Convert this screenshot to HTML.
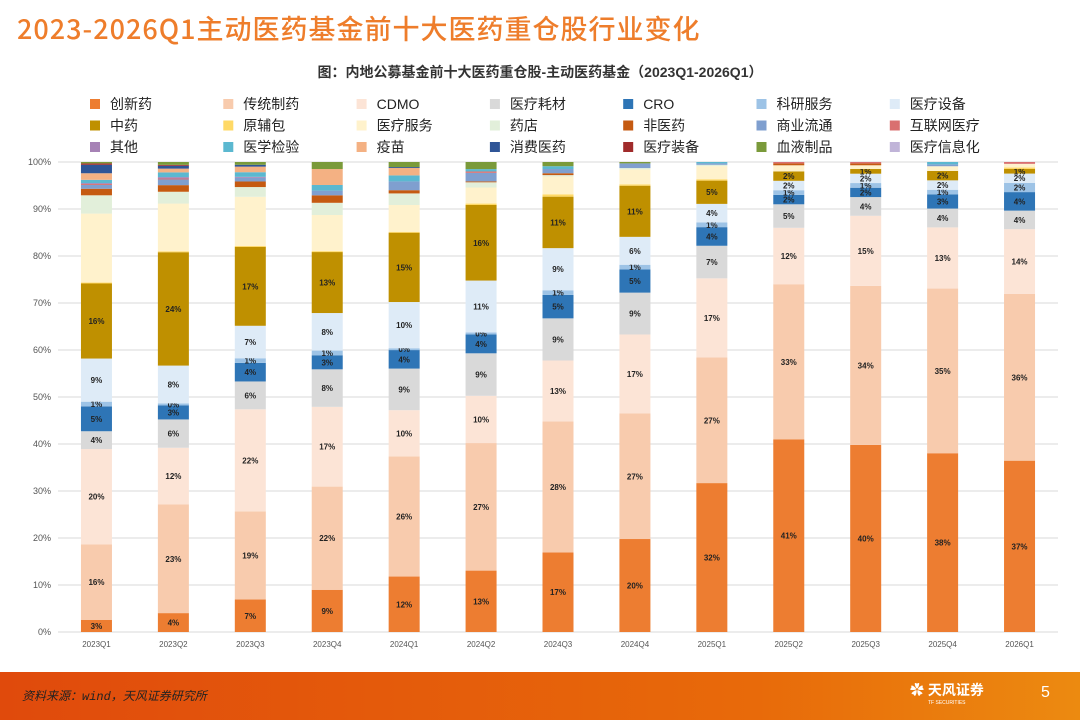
<!DOCTYPE html>
<html><head><meta charset="utf-8">
<style>
body{margin:0;width:1080px;height:720px;overflow:hidden;background:#fff;font-family:"Liberation Sans","Noto Sans CJK SC",sans-serif;position:relative}
#title{position:absolute;left:17px;top:8px;font-size:27px;color:#EE7D2B;font-family:"Noto Sans CJK SC",sans-serif;font-weight:500;letter-spacing:1px;white-space:nowrap}
#footer{position:absolute;left:0;top:672px;width:1080px;height:48px;background:linear-gradient(90deg,#E04A0C,#E86A0A 70%,#EC8A10)}
#src{position:absolute;left:22px;top:15px;color:#222;font-size:12px;font-style:italic;font-family:"Liberation Mono","Noto Sans CJK SC",monospace}
#logo{position:absolute;left:910px;top:8px;color:#fff;font-size:14px;font-weight:bold}
#page{position:absolute;left:1041px;top:12px;color:#fff;font-size:16px}
</style></head><body>
<div id="title">2023-2026Q1主动医药基金前十大医药重仓股行业变化</div>
<svg id="chart" width="1080" height="672" style="position:absolute;left:0;top:0"></svg>
<div id="footer">
<div id="src">资料来源：wind，天风证券研究所</div>
<div id="logo">✿ 天风证券<div style="font-size:5px;font-weight:normal;margin-left:18px">TF SECURITIES</div></div>
<div id="page">5</div>
</div>
<script>
const categories=["2023Q1","2023Q2","2023Q3","2023Q4","2024Q1","2024Q2","2024Q3","2024Q4","2025Q1","2025Q2","2025Q3","2025Q4","2026Q1"];
const seriesNames=["创新药","传统制药","CDMO","医疗耗材","CRO","科研服务","医疗设备","中药","原辅包","医疗服务","药店","非医药","商业流通","互联网医疗","其他","医学检验","疫苗","消费医药","医疗装备","血液制品","医疗信息化"];
const colors=["#ED7D31","#F8CBAD","#FCE4D6","#D9D9D9","#2E75B6","#9DC3E6","#DEEBF7","#BF9000","#FFD966","#FFF2CC","#E2EFDA","#C55A11","#7F9FCF","#D97070","#A682B5","#5BB8D0","#F4B183","#2F5597","#A02B2B","#7A9A3A","#C0B4D8"];
const s_cxy=[2.6,4,7,9,12,13,17,20,32,41,40,38,37];
const s_ctzy=[16.1,23,19,22,26,27,28,27,27,33,34,35,36];
const s_cdmo=[20.3,12,22,17,10,10,13,17,17,12,15,13,14];
const s_hc=[3.8,6,6,8,9,9,9,9,7,5,4,4,4];
const s_cro=[5.3,3,4,3,4,4,5,5,4,2,2,3,4];
const s_ky=[1,0.4,1,1,0.4,0.4,1,1,1,1,1,1,2];
const s_sb=[9.2,8,7,8,10,11,9,6,4,2,2,2,2];
const s_zy=[16,24,17,13,15,16,11,11,5,2,1,2,1];
const s_fzb=[0.2,0.2,0.2,0.2,0.2,0.3,0.5,0.3,0.3,0,0,0,0.3];
const s_ylfw=[14.7,10.1,10.6,7.7,5.8,3.4,3.8,3.2,2.8,1.3,0.8,1,0.8];
const s_yd=[3.9,2.5,2.1,2.6,2.5,1.1,0.3,0.3,0.3,0,0,0,0];
const s_fyy=[1.4,1.4,1.2,1.6,0.7,0.2,0.4,0,0,0.4,0.4,0,0];
const s_syl=[0.8,1.2,0.8,1,1.9,1.8,0.9,1,0.3,0,0,0.4,0];
const s_hlw=[0.2,0.2,0,0,0,0.3,0,0,0,0.3,0.3,0,0.4];
const s_qt=[0.2,0.3,0.2,0,0,0,0,0,0,0,0,0,0];
const s_yxjy=[0.7,1,1,1.2,1.3,0.5,0.6,0,0.3,0,0,0.5,0];
const s_ym=[1.4,0.8,1.2,3.4,1.6,0,0,0,0,0,0,0,0];
const s_xfyy=[1.8,0.6,0.4,0,0.2,0,0,0,0,0,0,0,0];
const s_ylzb=[0.3,0.2,0,0,0,0,0,0,0,0,0,0,0];
const s_xy=[0.3,0.6,0.6,1.5,1.1,1.5,0.9,0.3,0,0,0,0,0];
const s_xxh=[0,0,0,0,0,0,0,0,0,0,0,0,0];
const series=[s_cxy,s_ctzy,s_cdmo,s_hc,s_cro,s_ky,s_sb,s_zy,s_fzb,s_ylfw,s_yd,s_fyy,s_syl,s_hlw,s_qt,s_yxjy,s_ym,s_xfyy,s_ylzb,s_xy,s_xxh];
const yTicks=[0,10,20,30,40,50,60,70,80,90,100];

const svg=document.getElementById('chart');
const NS='http://www.w3.org/2000/svg';
const X0=58,X1=1058,Y0=632,Y1=162;
const y=v=>Y0-(Y0-Y1)*v/100;
const step=(X1-X0)/categories.length;
const xc=i=>X0+step*(i+0.5);
const BW=31;
function mk(t,a){const e=document.createElementNS(NS,t);for(const k in a)e.setAttribute(k,a[k]);svg.appendChild(e);return e;}

let t=mk('text',{x:540,y:77,'text-anchor':'middle','font-size':14,'font-weight':'bold',fill:'#333'});


t.textContent='图：内地公募基金前十大医药重仓股-主动医药基金（2023Q1-2026Q1）';

seriesNames.forEach((n,i)=>{
  const col=i%7,row=Math.floor(i/7);
  const lx=93+col*133.3,ly=104+row*21.5;
  const r=mk('rect',{x:lx-3,y:ly-5,width:10,height:10,fill:colors[i]});
  
  
  const tx=mk('text',{x:lx+17,y:ly+5,'font-size':14,fill:'#222'});
  
  
  tx.textContent=n;
});

yTicks.forEach(v=>{
  const l=mk('line',{x1:X0,x2:X1,y1:y(v),y2:y(v),stroke:'#d9d9d9','stroke-width':1});
  
  
  const tx=mk('text',{x:51,y:y(v)+3,'text-anchor':'end','font-size':9,fill:'#555'});
  
  
  tx.textContent=v+'%';
});

categories.forEach((c,i)=>{
  let tot=0;series.forEach(s=>tot+=s[i]);
  let acc=0;
  series.forEach((s,k)=>{
    const v=s[i];if(v<=0)return;
    const a=acc/tot*100,b=(acc+v)/tot*100;acc+=v;
    const r=mk('rect',{x:xc(i)-BW/2,y:y(b),width:BW,height:y(a)-y(b),fill:colors[k]});
    
    
    if(k<8){
      const tx=mk('text',{x:xc(i),y:(y(a)+y(b))/2+3,'text-anchor':'middle','font-size':8,'font-weight':'bold',fill:'#222'});
      
      
      tx.textContent=Math.round(v)+'%';
    }
  });
  const tx=mk('text',{x:xc(i),y:647,'text-anchor':'middle','font-size':8,fill:'#555'});
  
  
  tx.textContent=c;
});
</script>
</body></html>
